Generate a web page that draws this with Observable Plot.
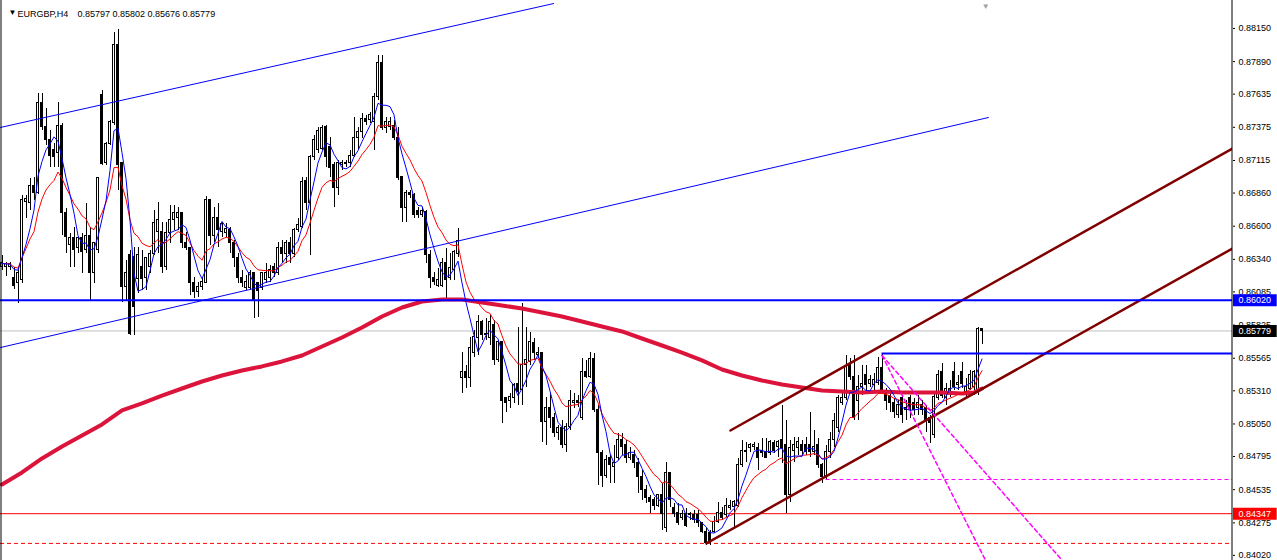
<!DOCTYPE html>
<html><head><meta charset="utf-8">
<script src="https://cdn.jsdelivr.net/npm/d3@7"></script>
<script src="https://cdn.jsdelivr.net/npm/@observablehq/plot@0.6"></script>
<style>
html,body{margin:0;padding:0;background:#fff;}
#chart svg{display:block;}
</style></head><body><div id="chart"></div>
<script>
const symbolName = "EURGBP,H4";
const open = [
.86284,.86284,.86284,.86198,.86151,.86175,.86786,.86778,.86919,.86864,
.87562,.87374,.87272,.87194,.87170,.87389,.86700,.86449,.86504,.86433,
.86504,.86410,.86527,.86237,.86410,.87632,.87092,.87248,.87405,.88024,
.87092,.86120,.86371,.86355,.86190,.86277,.86198,.86277,.86386,.86551,
.86551,.86277,.86543,.86645,.86661,.86700,.86472,.86433,.86151,.86081,
.86120,.86151,.86802,.86527,.86668,.86551,.86543,.86567,.86465,.86347,
.86198,.86112,.86112,.86230,.86151,.86112,.86175,.86198,.86277,.86230,
.86433,.86386,.86465,.86386,.86567,.86590,.86958,.86778,.87139,.87194,
.87209,.87374,.87217,.87076,.86903,.87076,.87084,.87092,.87154,.87288,
.87335,.87444,.87429,.87413,.87609,.87883,.87366,.87374,.87389,.87288,
.86982,.86739,.86864,.86841,.86723,.86684,.86708,.86371,.86198,.86135,
.86135,.86308,.86198,.86253,.86386,.85407,.85454,.85407,.85603,.85720,
.85846,.85744,.85720,.85822,.85548,.85689,.85250,.85234,.85250,.85367,
.85313,.85509,.85532,.85681,.85587,.85610,.85062,.85172,.85093,.84976,
.85015,.84882,.85023,.85211,.85234,.85093,.85454,.85415,.85563,.85156,
.84819,.84646,.84780,.84709,.84787,.84921,.84882,.84787,.84803,.84748,
.84631,.84529,.84466,.84451,.84411,.84490,.84231,.84662,.84388,.84356,
.84317,.84348,.84333,.84333,.84333,.84270,.84200,.84192,.84200,.84278,
.84356,.84333,.84388,.84396,.84411,.84725,.84827,.84858,.84866,.84858,
.84842,.84827,.84819,.84897,.84866,.84921,.84882,.84490,.84842,.84858,
.84882,.84882,.84882,.84827,.84882,.84725,.84646,.84827,.84921,.85015,
.85218,.85250,.85509,.85415,.85234,.85336,.85430,.85367,.85352,.85375,
.85485,.85297,.85273,.85211,.85117,.85250,.85156,.85250,.85211,.85172,
.85195,.85172,.85093,.84960,.85250,.85454,.85250,.85289,.85454,.85352,
.85454,.85297,.85328,.85336,.85313,.85797];
const high = [
.86371,.86316,.86316,.86277,.86277,.86841,.86841,.86974,.86982,.87640,
.87640,.87523,.87350,.87248,.87570,.87405,.86739,.86543,.86590,.86512,
.86543,.86778,.86590,.86472,.86982,.87664,.87256,.87429,.88118,.88142,
.87092,.86331,.86410,.86433,.86433,.86410,.86355,.86410,.86723,.86786,
.86629,.86629,.86762,.86762,.86747,.86708,.86551,.86433,.86198,.86159,
.86198,.86833,.86802,.86747,.86778,.86629,.86621,.86590,.86488,.86386,
.86253,.86214,.86253,.86237,.86151,.86237,.86308,.86292,.86308,.86472,
.86488,.86488,.86512,.86582,.86661,.86982,.86982,.87154,.87311,.87374,
.87389,.87389,.87295,.87099,.87115,.87115,.87115,.87194,.87452,.87374,
.87483,.87468,.87491,.87640,.87938,.87938,.87452,.87452,.87429,.87374,
.86982,.86880,.86880,.86856,.86747,.86747,.86723,.86410,.86237,.86269,
.86347,.86425,.86386,.86410,.86582,.85610,.85509,.85728,.85783,.85900,
.85861,.85877,.85900,.85861,.85704,.85689,.85258,.85289,.85367,.85806,
.85994,.85806,.85767,.85720,.85650,.85610,.85258,.85289,.85132,.85038,
.85077,.85054,.85313,.85289,.85273,.85563,.85548,.85610,.85603,.85195,
.84842,.84803,.84803,.84882,.84976,.84976,.84921,.84866,.84842,.84780,
.84686,.84568,.84490,.84474,.84497,.84584,.84748,.84670,.84427,.84427,
.84372,.84388,.84356,.84372,.84372,.84278,.84231,.84215,.84325,.84435,
.84396,.84466,.84451,.84451,.84780,.84921,.84905,.84897,.84905,.84897,
.84936,.84936,.84921,.84921,.84921,.85195,.85077,.84921,.84944,.84944,
.84921,.84944,.85140,.84999,.84936,.84740,.84882,.84984,.85132,.85273,
.85289,.85587,.85563,.85587,.85430,.85509,.85509,.85430,.85446,.85571,
.85603,.85328,.85313,.85250,.85234,.85273,.85234,.85273,.85250,.85273,
.85234,.85195,.85117,.85289,.85469,.85524,.85367,.85391,.85532,.85430,
.85532,.85407,.85469,.85469,.85810,.85802];
const low = [
.86253,.86206,.86253,.86104,.85994,.86151,.86661,.86723,.86802,.86849,
.87350,.87233,.87060,.87060,.87060,.86527,.86386,.86277,.86277,.86386,
.86230,.86386,.86018,.86151,.86386,.87076,.87076,.87233,.87389,.86880,
.86002,.86018,.85744,.85744,.86073,.86096,.86096,.86230,.86371,.86386,
.86230,.86253,.86465,.86567,.86567,.86425,.86410,.86057,.86034,.86041,
.86096,.86151,.86449,.86472,.86433,.86512,.86512,.86386,.86277,.86151,
.86120,.86096,.86096,.85877,.85885,.86096,.86151,.86159,.86198,.86214,
.86308,.86308,.86308,.86355,.86551,.86582,.86723,.86371,.87115,.87170,
.87194,.87060,.86982,.86747,.86841,.87037,.87060,.87060,.87139,.87194,
.87288,.87389,.87405,.87194,.87585,.87350,.87327,.87350,.87272,.86958,
.86629,.86629,.86817,.86661,.86661,.86668,.86308,.86112,.86135,.86120,
.86120,.86034,.86175,.86175,.86355,.85289,.85328,.85336,.85571,.85587,
.85704,.85704,.85665,.85509,.85532,.85054,.85140,.85172,.85211,.85195,
.85195,.85336,.85509,.85548,.85563,.84905,.84882,.85015,.84944,.84921,
.84858,.84827,.84999,.85172,.85179,.85077,.85407,.85407,.85140,.84568,
.84552,.84623,.84584,.84584,.84764,.84803,.84740,.84764,.84701,.84505,
.84451,.84427,.84348,.84372,.84396,.84215,.84200,.84396,.84317,.84254,
.84294,.84239,.84294,.84270,.84239,.84192,.84098,.84098,.84192,.84270,
.84294,.84317,.84372,.84239,.84396,.84709,.84748,.84827,.84842,.84686,
.84787,.84780,.84803,.84819,.84787,.84740,.84348,.84435,.84748,.84803,
.84803,.84803,.84787,.84803,.84701,.84584,.84615,.84780,.84866,.84984,
.85195,.85234,.85391,.85077,.85077,.85273,.85313,.85336,.85313,.85352,
.85289,.85156,.85140,.85093,.85093,.85054,.85077,.85093,.85117,.85117,
.85117,.84984,.84897,.84937,.85234,.85250,.85195,.85258,.85313,.85313,
.85328,.85250,.85313,.85273,.85273,.85676];
const close = [
.86308,.86300,.86300,.86135,.86230,.86802,.86817,.86919,.86864,.87562,
.87374,.87272,.87154,.87139,.87389,.86700,.86512,.86504,.86410,.86504,
.86394,.86527,.86230,.86465,.86974,.87084,.87248,.87413,.88024,.87076,
.86120,.86237,.85759,.85963,.86371,.86190,.86347,.86386,.86629,.86645,
.86277,.86543,.86645,.86700,.86700,.86472,.86433,.86151,.86081,.86120,
.86159,.86802,.86527,.86668,.86567,.86621,.86582,.86465,.86347,.86198,
.86151,.86159,.86230,.86018,.86096,.86230,.86237,.86253,.86230,.86433,
.86386,.86465,.86386,.86567,.86606,.86943,.86778,.87139,.87272,.87350,
.87366,.87139,.87060,.86903,.87099,.87092,.87092,.87154,.87288,.87335,
.87444,.87413,.87468,.87609,.87883,.87366,.87413,.87413,.87295,.86974,
.86739,.86864,.86841,.86684,.86684,.86723,.86371,.86198,.86159,.86175,
.86308,.86175,.86269,.86394,.86488,.85454,.85407,.85642,.85728,.85846,
.85744,.85759,.85846,.85548,.85689,.85234,.85218,.85258,.85352,.85297,
.85509,.85548,.85689,.85603,.85610,.85062,.85172,.85093,.84976,.85015,
.84882,.85023,.85234,.85234,.85218,.85454,.85415,.85563,.85156,.84819,
.84646,.84764,.84725,.84748,.84921,.84866,.84787,.84819,.84748,.84631,
.84529,.84466,.84435,.84411,.84490,.84348,.84662,.84451,.84348,.84270,
.84348,.84254,.84348,.84294,.84270,.84200,.84114,.84114,.84278,.84356,
.84317,.84411,.84411,.84435,.84725,.84842,.84842,.84882,.84882,.84787,
.84819,.84787,.84905,.84842,.84905,.84858,.84490,.84858,.84882,.84905,
.84842,.84827,.84827,.84866,.84725,.84631,.84827,.84921,.85077,.85250,
.85250,.85493,.85415,.85093,.85336,.85367,.85352,.85391,.85391,.85485,
.85297,.85234,.85211,.85140,.85195,.85117,.85179,.85156,.85156,.85218,
.85156,.85077,.85054,.85258,.85430,.85273,.85328,.85328,.85336,.85375,
.85367,.85336,.85430,.85454,.85797,.85779];

// slow moving average (bar index, price)
const slowMAIndex = [0,5,10,15,20,25,30,35,40,45,50,55,60,65,70,75,80,85,90,95,100,105,110,115,120,125,130,135,140,145,150,155,160,165,170,175,180,185,190,195,200,205,210,215,220,225,230,235,240,243,245];
const slowMAValue = [.84576,.84670,.84780,.84874,.84960,.85046,.85156,.85211,.85273,.85328,.85383,.85430,.85469,.85501,.85540,.85587,.85657,.85728,.85806,.85892,.85963,.86010,.86026,.86026,.86002,.85979,.85955,.85924,.85892,.85853,.85814,.85775,.85720,.85665,.85610,.85548,.85477,.85430,.85391,.85360,.85336,.85313,.85305,.85297,.85305,.85297,.85297,.85297,.85289,.85297,.85328];

const yTicks = [0.88150,0.87890,0.87635,0.87375,0.87115,0.86860,0.86600,0.86340,0.86085,0.85825,0.85565,0.85310,0.85050,0.84795,0.84535,0.84275,0.84020];

// chart objects (bar index, price)
const blueUpperIdx = [-0.375, 137.9], blueUpperPrice = [0.87374, 0.88345];
const blueLowerIdx = [-0.375, 246.6], blueLowerPrice = [0.85649, 0.87452];
const chanUpperIdx = [182.1, 307.6], chanUpperPrice = [0.84999, 0.87209];
const chanLowerIdx = [176.1, 307.6], chanLowerPrice = [0.84114, 0.86425];
const fanAIdx = [220, 245.9], fanAPrice = [0.85587, 0.83980];
const fanBIdx = [220, 265.1], fanBPrice = [0.85587, 0.83980];
const levelBlue = 0.86020, levelRed = 0.84347, levelDash = 0.84114;
const levelMagenta = 0.84615, levelMagentaFrom = 206;
const levelHigh = 0.85603, levelHighFrom = 220;

const N = open.length;
const bid = close[N - 1];
const candles = open.map((o, i) => ({i, o, h: high[i], l: low[i], c: close[i]}));
const fastPeriod = 5, midPeriod = 12;
const fastMA = close.map((c, i) => ({i, v: d3.mean(close.slice(Math.max(0, i - fastPeriod + 1), i + 1))}));
let ema;
const midMA = close.map((c, i) => { ema = i === 0 ? c : ema + (c - ema) * 2 / (midPeriod + 1); return {i, v: ema}; });
const slowMA = slowMAIndex.map((i, k) => ({i, v: slowMAValue[k]}));
const seg = (xs, ys) => xs.map((x, k) => ({i: x, v: ys[k]}));

const X0 = -0.375, X1 = 307.625;
const boxX1 = 307.875, boxX2 = 318.8, boxText = 309.1;
const labels = [
  {p: levelBlue, bg: "#0000FF"},
  {p: bid, bg: "#000000"},
  {p: levelRed, bg: "#FF0000"}
];
const fmt = d3.format(".5f");

const chart = Plot.plot({
  width: 1277, height: 560,
  marginLeft: 0, marginRight: 45, marginTop: 0, marginBottom: 0,
  x: {domain: [X0, X1], axis: null},
  y: {domain: [0.83980, 0.88369], axis: "right", ticks: yTicks, tickFormat: fmt, tickSize: 2, tickPadding: 4, label: null},
  style: {background: "#ffffff", color: "#000000", fontFamily: "'Liberation Sans', Arial, sans-serif", fontSize: "9px", overflow: "visible"},
  marks: [
    Plot.ruleY([levelDash], {stroke: "#FF0000", strokeDasharray: "4,3"}),
    Plot.ruleY([levelMagenta], {x1: levelMagentaFrom, x2: X1, stroke: "#FF00FF", strokeDasharray: "4,3"}),
    Plot.ruleY([bid], {stroke: "#C0C0C0"}),
    Plot.ruleY([levelRed], {stroke: "#FF0000"}),
    Plot.ruleX(candles, {x: "i", y1: "l", y2: "h", stroke: "#000000", shapeRendering: "crispEdges"}),
    Plot.rect(candles, {x1: d => d.i - 0.25, x2: d => d.i + 0.25, y1: "o", y2: "c", fill: d => d.c >= d.o ? "#ffffff" : "#000000", stroke: "#000000", shapeRendering: "crispEdges"}),
    Plot.line(slowMA, {x: "i", y: "v", stroke: "#DC143C", strokeWidth: 4, clip: true}),
    Plot.line(midMA, {x: "i", y: "v", stroke: "#FF0000", strokeWidth: 1}),
    Plot.line(fastMA, {x: "i", y: "v", stroke: "#0000FF", strokeWidth: 1}),
    Plot.line(seg(blueUpperIdx, blueUpperPrice), {x: "i", y: "v", stroke: "#0000FF", strokeWidth: 1, clip: true}),
    Plot.line(seg(blueLowerIdx, blueLowerPrice), {x: "i", y: "v", stroke: "#0000FF", strokeWidth: 1, clip: true}),
    Plot.line(seg(chanUpperIdx, chanUpperPrice), {x: "i", y: "v", stroke: "#800000", strokeWidth: 2.5, clip: true}),
    Plot.line(seg(chanLowerIdx, chanLowerPrice), {x: "i", y: "v", stroke: "#800000", strokeWidth: 2.5, clip: true}),
    Plot.line(seg(fanAIdx, fanAPrice), {x: "i", y: "v", stroke: "#FF00FF", strokeDasharray: "4,3", clip: true}),
    Plot.line(seg(fanBIdx, fanBPrice), {x: "i", y: "v", stroke: "#FF00FF", strokeDasharray: "4,3", clip: true}),
    Plot.ruleY([levelBlue], {stroke: "#0000FF", strokeWidth: 2}),
    Plot.ruleY([levelHigh], {x1: levelHighFrom, x2: X1, stroke: "#0000FF", strokeWidth: 2}),
    Plot.ruleX([X0 + 0.125], {stroke: "#000000"}),
    Plot.ruleX([X1 - 0.125], {stroke: "#000000"}),
    Plot.ruleY(labels, {y: "p", x1: boxX1, x2: boxX2, stroke: "bg", strokeWidth: 12}),
    Plot.text(labels, {y: "p", x: boxText, text: d => fmt(d.p), fill: "#ffffff", textAnchor: "start", fontSize: 9}),
    Plot.text(["\u25BC"], {frameAnchor: "top-left", dx: 8, dy: 9, fontSize: 8, fill: "#000000"}),
    Plot.text([symbolName], {frameAnchor: "top-left", dx: 17, dy: 10, textAnchor: "start", fill: "#000000"}),
    Plot.text([[open[N-1], high[N-1], low[N-1], close[N-1]].map(fmt).join(" ")], {frameAnchor: "top-left", dx: 77, dy: 10, textAnchor: "start", fill: "#000000"}),
    Plot.text(["\u25BC"], {x: 245.9, frameAnchor: "top", dy: 3, fontSize: 8, fill: "#A0A0A0"})
  ]
});
document.getElementById("chart").appendChild(chart);
</script>
</body></html>
